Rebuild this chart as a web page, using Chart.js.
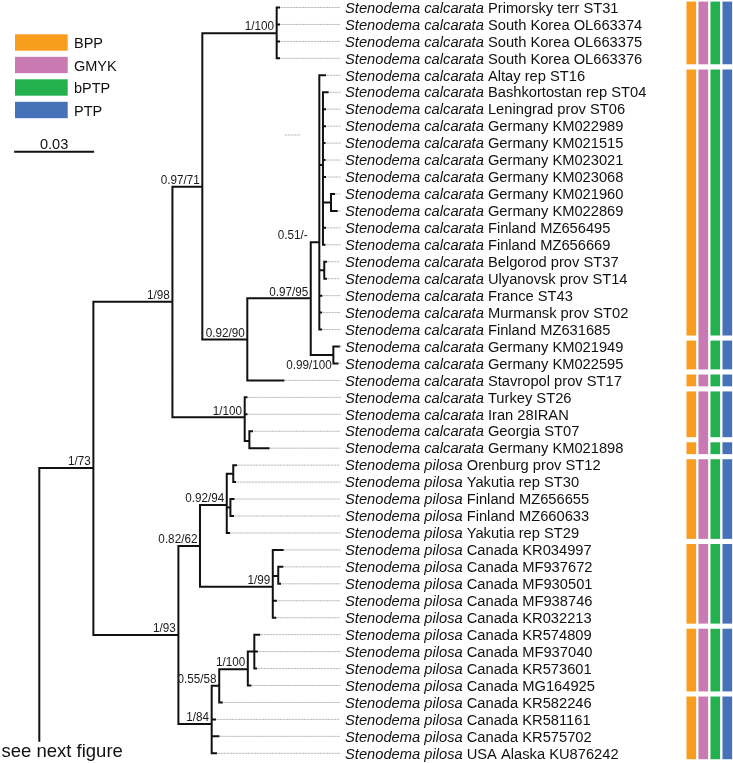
<!DOCTYPE html>
<html>
<head>
<meta charset="utf-8">
<script src="https://cdn.jsdelivr.net/npm/chart.js@4.4.1/dist/chart.umd.min.js"></script>
<style>
  html, body { margin: 0; padding: 0; background: #fff; }
  #wrap { width: 733px; height: 763px; position: relative; }
</style>
</head>
<body>
<div id="wrap"><canvas id="tree"></canvas></div>
<script>
/* ─────────────────────────────────────────
   DATOS: tips (de arriba a abajo)
───────────────────────────────────────── */
const tipSpecies = [
  ...Array(27).fill("Stenodema calcarata"),
  ...Array(18).fill("Stenodema pilosa")
];

const tipSites = [
  "Primorsky terr ST31", "South Korea OL663374", "South Korea OL663375", "South Korea OL663376",
  "Altay rep ST16", "Bashkortostan rep ST04", "Leningrad prov ST06", "Germany KM022989",
  "Germany KM021515", "Germany KM023021", "Germany KM023068", "Germany KM021960",
  "Germany KM022869", "Finland MZ656495", "Finland MZ656669", "Belgorod prov ST37",
  "Ulyanovsk prov ST14", "France ST43", "Murmansk prov ST02", "Finland MZ631685",
  "Germany KM021949", "Germany KM022595", "Stavropol prov ST17", "Turkey ST26",
  "Iran 28IRAN", "Georgia ST07", "Germany KM021898",
  "Orenburg prov ST12", "Yakutia rep ST30", "Finland MZ656655", "Finland MZ660633",
  "Yakutia rep ST29", "Canada KR034997", "Canada MF937672", "Canada MF930501",
  "Canada MF938746", "Canada KR032213", "Canada KR574809", "Canada MF937040",
  "Canada KR573601", "Canada MG164925", "Canada KR582246", "Canada KR581161",
  "Canada KR575702", "USA Alaska KU876242"
];

const tipParent = [
  "F", "F", "F", "F",
  "I", "K", "K", "K", "K", "K", "K", "K2", "K2", "K", "K", "K3", "K3", "I", "I", "I",
  "J", "J", "G", "E", "E", "E2", "E2",
  "N1", "N1", "N2", "N2", "N",
  "O", "O1", "O1", "O", "O",
  "S1", "S1", "S1", "S", "R", "M", "M", "M"
];

// distancia desde la raíz (sustituciones/sitio)
const tipDepth = [
  0.0922, 0.0922, 0.0922, 0.0922,
  0.1099, 0.1109, 0.1099, 0.1099, 0.1097, 0.1097, 0.1099, 0.1134, 0.1144, 0.1099, 0.1097,
  0.1103, 0.1103, 0.1085, 0.1084, 0.1084,
  0.1153, 0.1147, 0.0939, 0.0797, 0.0797, 0.0818, 0.0882,
  0.0757, 0.0753, 0.0747, 0.0745, 0.0730,
  0.0936, 0.0935, 0.0926, 0.0910, 0.0908,
  0.0846, 0.0837, 0.0834, 0.0812, 0.0702, 0.0676, 0.0689, 0.0680
];

/* ─────────────────────────────────────────
   DATOS: nodos internos
───────────────────────────────────────── */
const nodeNames   = ["A", "B", "C", "D", "E", "F", "G", "H", "I", "J", "K", "K2", "K3", "E2",
                     "L", "N", "N1", "N2", "O", "O1", "M", "R", "S", "S1"];
const nodeParent  = ["root", "A", "A", "B", "B", "D", "D", "G", "H", "H", "I", "K", "I", "E",
                     "C", "L", "N", "N", "L", "O", "C", "M", "R", "S"];
const nodeDepth   = [0.0208, 0.0512, 0.0535, 0.0627, 0.0790, 0.0913, 0.0800, 0.1044, 0.1077, 0.1131,
                     0.1091, 0.1122, 0.1096, 0.0808, 0.0618, 0.0721, 0.0746, 0.0735, 0.0898, 0.0919,
                     0.0663, 0.0692, 0.0802, 0.0827];
const nodeY       = [27.17, 17.36, 37.02, 10.57, 24.18, 1.52, 19.58, 17.16, 13.85, 20.5,
                     9.29, 11.5, 15.5, 25.58, 31.77, 29.35, 27.5, 29.5, 34.17, 33.54,
                     42.27, 40.01, 39.04, 38.0];
const nodeSupport = ["1/73", "1/98", "1/93", "0.97/71", "1/100", "1/100", "0.92/90", "0.97/95", "0.51/-", "0.99/100",
                     "", "", "", "", "0.82/62", "0.92/94", "", "", "1/99", "",
                     "1/84", "0.55/58", "1/100", ""];

const rootStemEnd = 43.26;   // la raíz sigue en la figura siguiente
const guideEnd = 0.1157;     // fin de las líneas punteadas
const labelStart = 0.1176;   // comienzo de los nombres
const strayGuide = [0.0945, 0.1003, 7.52];

const scaleBarFrom = -0.0093;
const scaleBarLength = 0.03;
const scaleBarY = 8.51;

/* ─────────────────────────────────────────
   DATOS: delimitación de especies
───────────────────────────────────────── */
const methodNames  = ["BPP", "GMYK", "bPTP", "PTP"];
const methodColors = ["#f89d1e", "#c97ab2", "#22b14c", "#4572b8"];
const blocksBPP  = [[0, 3], [4, 19], [20, 21], [22, 22], [23, 25], [26, 26], [27, 31], [32, 36], [37, 40], [41, 44]];
const blocksGMYK = [[0, 3], [4, 21], [22, 22], [23, 26], [27, 31], [32, 36], [37, 40], [41, 44]];
const blocksBPTP = [[0, 3], [4, 19], [20, 21], [22, 22], [23, 25], [26, 26], [27, 31], [32, 36], [37, 40], [41, 44]];
const blocksPTP  = [[0, 3], [4, 19], [20, 21], [22, 22], [23, 25], [26, 26], [27, 31], [32, 36], [37, 40], [41, 44]];

/* ─────────────────────────────────────────
   CONSTRUCCIÓN DE SEGMENTOS
───────────────────────────────────────── */
const idx = {};
nodeNames.forEach((n, i) => idx[n] = i);
const depthOf = name => name === "root" ? 0 : nodeDepth[idx[name]];

const branchPts = [];
const seg = (arr, x1, y1, x2, y2) => arr.push({ x: x1, y: y1 }, { x: x2, y: y2 }, { x: null, y: null });

// ramas horizontales
nodeNames.forEach((n, i) => seg(branchPts, depthOf(nodeParent[i]), nodeY[i], nodeDepth[i], nodeY[i]));
tipDepth.forEach((d, t) => seg(branchPts, depthOf(tipParent[t]), t, d, t));

// verticales de cada nodo
const childYs = { root: [nodeY[idx.A]] };
nodeNames.forEach((n, i) => (childYs[nodeParent[i]] = childYs[nodeParent[i]] || []).push(nodeY[i]));
tipParent.forEach((p, t) => (childYs[p] = childYs[p] || []).push(t));
nodeNames.forEach((n, i) => {
  const ys = childYs[n];
  seg(branchPts, nodeDepth[i], Math.min(...ys), nodeDepth[i], Math.max(...ys));
});
seg(branchPts, 0, nodeY[idx.A], 0, rootStemEnd);

// guías punteadas
const guidePts = [];
tipDepth.forEach((d, t) => seg(guidePts, d + 0.0008, t, guideEnd, t));
seg(guidePts, strayGuide[0], strayGuide[2], strayGuide[1], strayGuide[2]);

const scaleBarPts = [];
seg(scaleBarPts, scaleBarFrom, scaleBarY, scaleBarFrom + scaleBarLength, scaleBarY);

const blockData = (blocks, k) => blocks.map(([a, b]) => ({ x: k, y: [a - 0.33, b + 0.33] }));
const allBlocks = [blocksBPP, blocksGMYK, blocksBPTP, blocksPTP];

/* ─────────────────────────────────────────
   TEXTOS
───────────────────────────────────────── */
const FONT = '"Liberation Sans", Arial, sans-serif';
const labelTweak = { I: { dx: -9, dy: 0 }, J: { dx: 1, dy: 17 } };

const treeText = {
  id: "treeText",
  afterDatasetsDraw(chart) {
    const { ctx, scales: { x, y } } = chart;
    ctx.save();
    ctx.fillStyle = "#111";
    ctx.textBaseline = "alphabetic";

    // nombres de los tips
    const lx = x.getPixelForValue(labelStart);
    tipSites.forEach((site, t) => {
      const py = y.getPixelForValue(t) + 5.2;
      ctx.textAlign = "left";
      ctx.font = "italic 14.7px " + FONT;
      const sp = tipSpecies[t] + " ";
      ctx.fillText(sp, lx, py);
      const w = ctx.measureText(sp).width;
      ctx.font = "14.7px " + FONT;
      ctx.fillText(site, lx + w, py);
    });

    // soportes (letra algo estrecha, como en el original)
    ctx.font = "13.6px " + FONT;
    ctx.textAlign = "right";
    ctx.fillStyle = "#1a1a1a";
    nodeSupport.forEach((s, i) => {
      if (!s) return;
      const tw = labelTweak[nodeNames[i]] || { dx: 0, dy: 0 };
      const px = x.getPixelForValue(nodeDepth[i]) - 2.6 + tw.dx;
      const py = y.getPixelForValue(nodeY[i]) - 2.8 + tw.dy;
      ctx.save();
      ctx.translate(px, py);
      ctx.scale(0.86, 1);
      ctx.fillText(s, 0, 0);
      ctx.restore();
    });

    // leyenda
    ctx.textAlign = "left";
    ctx.fillStyle = "#111";
    ctx.font = "14.5px " + FONT;
    methodNames.forEach((m, k) => {
      const top = 34.3 + k * 22.5;
      ctx.fillStyle = methodColors[k];
      ctx.fillRect(15, top, 52.7, 16.4);
      ctx.fillStyle = "#111";
      ctx.fillText(m, 74, top + 14);
    });

    // barra de escala
    ctx.textAlign = "center";
    ctx.font = "14.6px " + FONT;
    const bx = (x.getPixelForValue(scaleBarFrom) + x.getPixelForValue(scaleBarFrom + scaleBarLength)) / 2;
    ctx.fillText(String(scaleBarLength), bx, y.getPixelForValue(scaleBarY) - 2.5);

    // raíz
    ctx.textAlign = "left";
    ctx.font = "18.5px " + FONT;
    ctx.fillText("see next figure", 1.5, 757);
    ctx.restore();
  }
};

/* ─────────────────────────────────────────
   GRÁFICO
───────────────────────────────────────── */
const lineDs = (data, color, width, dash) => ({
  type: "line",
  data,
  borderColor: color,
  borderWidth: width,
  borderDash: dash || [],
  borderCapStyle: "square",
  pointRadius: 0,
  fill: false,
  spanGaps: false,
  tension: 0,
  xAxisID: "x",
  yAxisID: "y"
});

new Chart(document.getElementById("tree"), {
  type: "scatter",
  data: {
    datasets: [
      lineDs(guidePts, "#bdbdbd", 1, [1.5, 1.5]),
      lineDs(branchPts, "#111", 2),
      lineDs(scaleBarPts, "#111", 2),
      ...methodNames.map((m, k) => ({
        type: "bar",
        label: m,
        data: blockData(allBlocks[k], k),
        backgroundColor: methodColors[k],
        borderWidth: 0,
        barThickness: 9,
        grouped: false,
        xAxisID: "xm",
        yAxisID: "y"
      }))
    ]
  },
  options: {
    responsive: true,
    maintainAspectRatio: false,
    animation: false,
    events: [],
    layout: { padding: 0 },
    plugins: { legend: { display: false }, tooltip: { enabled: false } },
    scales: {
      x:  { type: "linear", axis: "x", min: -0.015115, max: 0.266808, display: false },
      xm: { type: "linear", axis: "x", position: "bottom", min: -57.608, max: 3.475, offset: false, display: false },
      y:  { type: "linear", min: -0.4425, max: 44.572, reverse: true, display: false }
    }
  },
  plugins: [treeText]
});
</script>
</body>
</html>
